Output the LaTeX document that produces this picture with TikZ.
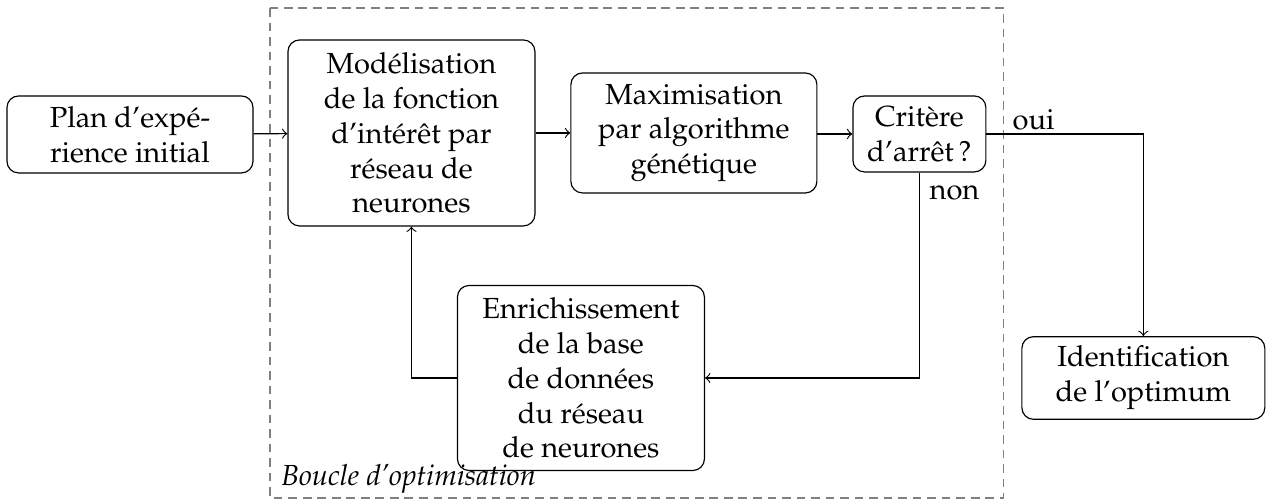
\documentclass[tikz,border=0pt]{standalone}
\usepackage[T1]{fontenc}
\usepackage{mathpazo}
\usepackage{tikz}
\usetikzlibrary{positioning, calc}

\tikzset{bloc/.style={draw, rounded corners=4pt, align=center, inner sep=2pt}}

\begin{document}
\begin{tikzpicture}
    \useasboundingbox (0,0) rectangle (15.32,-6.06);

    % cadre de la boucle
    \draw[gray, dash pattern=on 3pt off 2pt] (3.267,-0.097) rectangle (12.148,-6.026);
    \coordinate (boucle) at (3.267,-6.026);
    \node[anchor=south west, inner xsep=3.7pt, inner ysep=1.5pt, font=\itshape] (tboucle) at (boucle) {Boucle d'optimisation};

    \node[bloc, minimum width=2.977cm, minimum height=0.932cm] (plan) at (1.573,-1.627) {Plan d'expé-\\rience initial};
    \node[bloc, minimum width=2.989cm, minimum height=2.251cm] (modele) at (4.979,-1.609) {Modélisation\\de la fonction\\d'intérêt par\\réseau de\\neurones};
    \node[bloc, minimum width=2.977cm, minimum height=1.452cm] (maxim) at (8.397,-1.609) {Maximisation\\par algorithme\\génétique};
    \node[bloc, minimum width=1.609cm, minimum height=0.920cm] (critere) at (11.126,-1.621) {Critère\\d'arrêt\,?};
    \node[bloc, minimum width=2.989cm, minimum height=2.239cm] (enrich) at (7.030,-4.574) {Enrichissement\\de la base\\de données\\du réseau\\de neurones};
    \node[bloc, minimum width=2.94cm, minimum height=1.0cm] (ident) at (13.836,-4.574) {Identification\\de l'optimum};

    \draw[->] (plan) -- (modele);
    \draw[->] (modele.east |- maxim) -- (maxim);
    \draw[->] (maxim.east |- critere) -- (critere);
    \draw[->] (critere.east) -| node[pos=0.15, above, inner sep=1pt] {oui} (ident.north);
    \draw[->] (critere.south) |- node[pos=0.05, right] {non} (enrich.east);
    \draw[->] (enrich.west) -| (modele.south);
\end{tikzpicture}
\end{document}
